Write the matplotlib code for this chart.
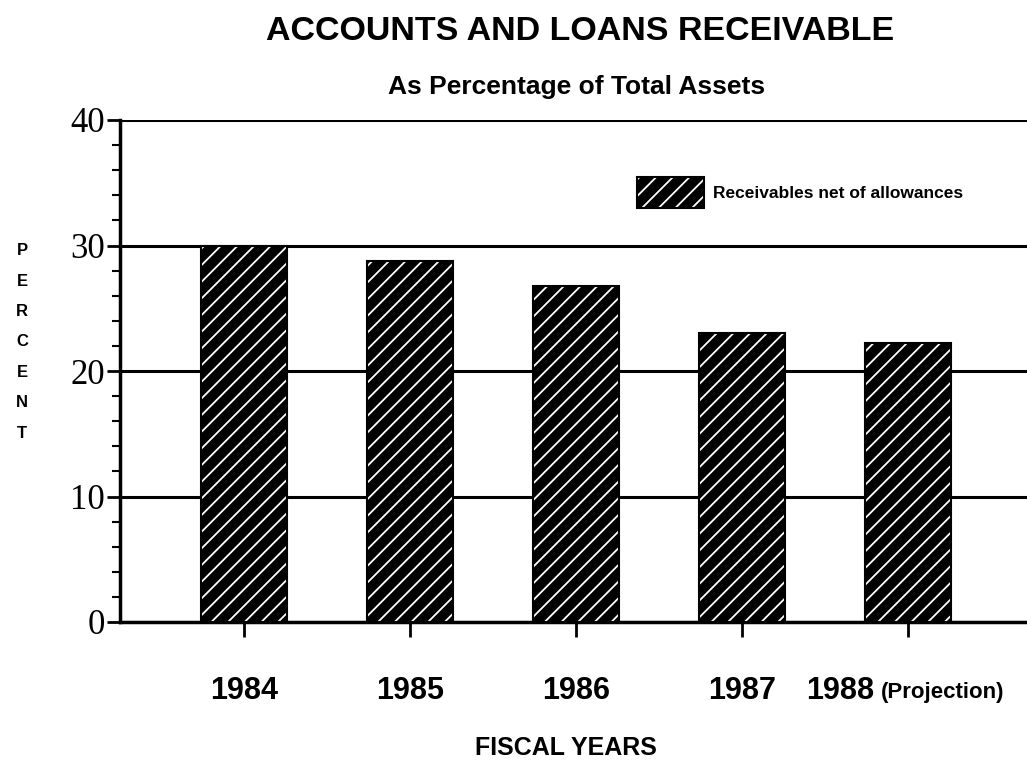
import matplotlib
matplotlib.use("Agg")
import matplotlib.pyplot as plt
from matplotlib.patches import Patch
from matplotlib.legend_handler import HandlerTuple
from matplotlib.ticker import MultipleLocator

# Receivables net of allowances, percent of total assets
years = ["1984", "1985", "1986", "1987", "1988"]
receivables_pct = [30.0, 28.8, 26.8, 23.0, 22.2]
y_ticks = [0, 10, 20, 30, 40]
series_label = "Receivables net of allowances"

plt.rcParams["hatch.linewidth"] = 1.3

fig = plt.figure(figsize=(10.27, 7.63), dpi=100)
ax = fig.add_axes([120 / 1027, 1 - 622 / 763, 907 / 1027, 502 / 763])

x = list(range(len(years)))
width = 0.52
# black fill with white diagonal hatching, then a black outline on top
ax.bar(x, receivables_pct, width=width, color="black", edgecolor="white",
       hatch="//", linewidth=0, zorder=3)
ax.bar(x, receivables_pct, width=width, fill=False, edgecolor="black",
       linewidth=1.5, zorder=4)

ax.set_xlim(-0.75, 4.72)
ax.set_ylim(0, 40)
ax.set_yticks(y_ticks)
ax.yaxis.set_minor_locator(MultipleLocator(2))
ax.yaxis.grid(True, which="major", color="black", linewidth=2.2)
ax.set_axisbelow(True)

for side in ("top", "right"):
    ax.spines[side].set_visible(False)
ax.spines["left"].set_linewidth(2.5)
ax.spines["bottom"].set_linewidth(2.5)

serif = ["Liberation Serif", "DejaVu Serif"]
sans = ["Liberation Sans", "DejaVu Sans"]

ax.tick_params(axis="y", which="major", direction="out", length=9.5,
               width=2, pad=1.5, labelsize=25)
ax.tick_params(axis="y", which="minor", direction="out", length=5.5, width=1.5)
for lbl in ax.get_yticklabels():
    lbl.set_family(serif)

ax.set_xticks(x)
ax.set_xticklabels(years[:-1] + [""], fontsize=22, fontweight="bold",
                   family=sans)
ax.tick_params(axis="x", direction="out", length=11, width=2, pad=28)

# last year carries a "(Projection)" note in smaller type
ax.annotate(years[-1], xy=(x[-1], 0), xycoords=("data", "axes fraction"),
            xytext=(-24, -50), textcoords="offset points", ha="right",
            va="center", fontsize=22, fontweight="bold", family=sans)
ax.annotate("(Projection)", xy=(x[-1], 0), xycoords=("data", "axes fraction"),
            xytext=(-19, -51), textcoords="offset points", ha="left",
            va="center", fontsize=16, fontweight="bold", family=sans)

# legend
handle = (Patch(facecolor="black", edgecolor="white", hatch="//", linewidth=0),
          Patch(fill=False, edgecolor="black", linewidth=1.5))
ax.legend([handle], [series_label], handler_map={tuple: HandlerTuple(ndivide=1)},
          loc="upper left", bbox_to_anchor=(0.560, 0.903), frameon=False,
          borderpad=0, handlelength=3.9, handleheight=2.3, handletextpad=0.5,
          prop={"family": sans, "weight": "bold", "size": 12.5})

fig.text(580 / 1027, 1 - 31 / 763, "ACCOUNTS AND LOANS RECEIVABLE",
         ha="center", va="center", fontsize=24.5, fontweight="bold", family=sans)
fig.text(577 / 1027, 1 - 87 / 763, "As Percentage of Total Assets",
         ha="center", va="center", fontsize=19, fontweight="bold", family=sans)
fig.text(566 / 1027, 1 - 748 / 763, "FISCAL YEARS",
         ha="center", va="center", fontsize=18, fontweight="bold", family=sans)
fig.text(22 / 1027, 1 - 342 / 763, "\n".join("PERCENT"),
         ha="center", va="center", fontsize=12, fontweight="bold",
         family=sans, linespacing=2.28)

fig.savefig("out.png", dpi=100)
